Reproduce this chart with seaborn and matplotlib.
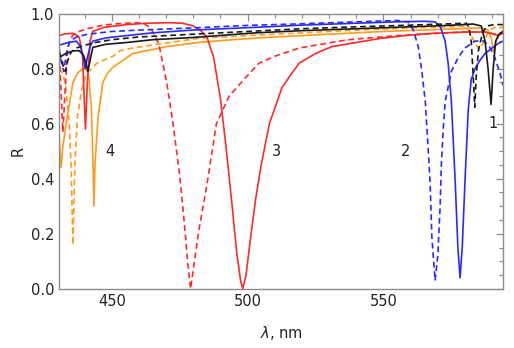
import numpy as np
import pandas as pd
import matplotlib
matplotlib.use("Agg")
import matplotlib.pyplot as plt
import seaborn as sns

# reflectance spectra (wavelength in nm, R)
red_solid_x = [430.6, 433, 436, 438, 439.2, 439.8, 440.3, 441, 442, 443, 447, 455.5, 463, 471, 476, 480, 482.5,
               485, 487.5, 490, 492, 494, 496, 497.4, 498.2, 499.4, 501, 503, 505, 508, 512.6, 516, 519, 525,
               531, 540, 549, 558, 567.6, 580, 587, 590, 592, 594]
red_solid_y = [0.92, 0.927, 0.928, 0.915, 0.85, 0.7, 0.58, 0.75, 0.9, 0.935, 0.95, 0.96, 0.965, 0.967, 0.965,
               0.955, 0.94, 0.915, 0.84, 0.69, 0.52, 0.33, 0.13, 0.03, 0.0, 0.05, 0.18, 0.33, 0.45, 0.6, 0.73,
               0.78, 0.82, 0.855, 0.88, 0.895, 0.91, 0.92, 0.928, 0.933, 0.933, 0.927, 0.92, 0.928]

red_dash_x = [430.6, 431.3, 432, 432.8, 433.8, 435.5, 438, 440.9, 446.7, 452, 459, 462, 464.5, 467.3, 470.2,
              472.4, 474.9, 476.5, 478, 479, 480, 482, 485.2, 488.5, 493.2, 499.5, 504.2, 510, 519, 537, 555,
              570, 580, 588, 591, 594]
red_dash_y = [0.88, 0.72, 0.57, 0.72, 0.88, 0.92, 0.935, 0.945, 0.958, 0.963, 0.967, 0.963, 0.945, 0.89, 0.75,
              0.61, 0.42, 0.26, 0.09, 0.0, 0.07, 0.21, 0.39, 0.6, 0.7, 0.77, 0.82, 0.845, 0.875, 0.905, 0.92,
              0.928, 0.933, 0.933, 0.925, 0.928]

blue_solid_x = [430.6, 434, 437, 438.5, 439.5, 440.2, 441, 442, 443, 448, 455.5, 465, 479.7, 503, 520, 540,
                555, 565, 569, 571, 572.7, 573.8, 575, 576.4, 577.4, 578.2, 579, 580, 581.2, 582.3, 583.7,
                585.5, 587.4, 590, 592, 594]
blue_solid_y = [0.885, 0.895, 0.9, 0.88, 0.84, 0.8, 0.84, 0.88, 0.9, 0.912, 0.92, 0.93, 0.94, 0.95, 0.958,
                0.965, 0.97, 0.972, 0.97, 0.95, 0.9, 0.82, 0.68, 0.39, 0.15, 0.04, 0.15, 0.39, 0.65, 0.76, 0.8,
                0.83, 0.855, 0.875, 0.89, 0.9]

blue_dash_x = [430.6, 431.5, 432.3, 433.2, 434.5, 437, 441, 450, 460, 480, 500, 520, 540, 555, 559, 561,
               562.8, 564, 565.4, 566.5, 567.2, 567.8, 569, 570, 570.9, 571.3, 572, 572.7, 575, 577.5, 580,
               583.7, 587, 589, 591, 593, 594]
blue_dash_y = [0.87, 0.82, 0.79, 0.85, 0.9, 0.915, 0.925, 0.935, 0.94, 0.948, 0.957, 0.963, 0.97, 0.975, 0.97,
               0.94, 0.88, 0.8, 0.68, 0.5, 0.38, 0.19, 0.03, 0.12, 0.31, 0.45, 0.58, 0.68, 0.79, 0.84, 0.875,
               0.9, 0.9, 0.88, 0.84, 0.78, 0.74]

black_solid_x = [430.6, 433, 436, 438, 439.5, 440.5, 441.2, 442, 443, 447.5, 455.5, 465, 479.7, 503, 520, 540,
                 560, 573.8, 583, 586, 587.4, 588.5, 589.6, 590.4, 591.3, 592.5, 594]
black_solid_y = [0.84, 0.855, 0.865, 0.865, 0.85, 0.82, 0.79, 0.83, 0.877, 0.888, 0.895, 0.905, 0.913, 0.93,
                 0.938, 0.945, 0.952, 0.957, 0.962, 0.955, 0.9, 0.8, 0.67, 0.8, 0.9, 0.925, 0.935]

black_dash_x = [430.6, 431.5, 432.3, 433, 433.8, 435, 437, 440, 444, 450, 460, 480, 500, 520, 540, 560, 575,
                580.5, 581.5, 582.3, 583, 583.6, 584.2, 585, 586.5, 588, 591, 594]
black_dash_y = [0.86, 0.84, 0.8, 0.79, 0.83, 0.86, 0.875, 0.885, 0.895, 0.905, 0.915, 0.925, 0.935, 0.945,
                0.952, 0.958, 0.963, 0.965, 0.95, 0.9, 0.78, 0.66, 0.78, 0.87, 0.93, 0.955, 0.96, 0.96]

orange_solid_x = [430.6, 431.3, 432, 433.5, 435.7, 437.5, 439.4, 440.8, 441.5, 442.5, 443.1, 443.4, 443.8,
                  444.9, 446.7, 448.5, 450.4, 457.7, 470.2, 482, 494.3, 510, 530, 550, 570, 580, 586, 588.5,
                  589.7, 590.5, 591.5, 593, 594]
orange_solid_y = [0.55, 0.44, 0.52, 0.62, 0.75, 0.785, 0.8, 0.795, 0.77, 0.65, 0.45, 0.3, 0.45, 0.62, 0.75,
                  0.785, 0.805, 0.855, 0.88, 0.895, 0.905, 0.915, 0.925, 0.935, 0.942, 0.946, 0.948, 0.94,
                  0.91, 0.86, 0.9, 0.93, 0.935]

orange_dash_x = [430.6, 432, 433, 434.3, 435, 435.7, 436.4, 437.3, 438.8, 440.5, 444.5, 450.4, 453, 457.7,
                 467.6, 482, 500, 520, 540, 560, 575, 580, 582, 583.7, 585.5, 587, 589, 591, 594]
orange_dash_y = [0.8, 0.78, 0.74, 0.6, 0.45, 0.16, 0.45, 0.62, 0.72, 0.78, 0.82, 0.845, 0.865, 0.875, 0.89,
                 0.91, 0.92, 0.93, 0.94, 0.948, 0.952, 0.955, 0.93, 0.89, 0.87, 0.9, 0.94, 0.95, 0.95]

# curve number labels: text, wavelength, R
label_text = ["4", "3", "2", "1"]
label_x = [449.3, 510.8, 558.0, 590.3]
label_y = [0.50, 0.50, 0.50, 0.60]

curves = [
    ("orange_dash", orange_dash_x, orange_dash_y, "#ff9a1a", True),
    ("orange_solid", orange_solid_x, orange_solid_y, "#ff9a1a", False),
    ("red_dash", red_dash_x, red_dash_y, "#ff2a2a", True),
    ("red_solid", red_solid_x, red_solid_y, "#ff2a2a", False),
    ("blue_dash", blue_dash_x, blue_dash_y, "#2a2aff", True),
    ("blue_solid", blue_solid_x, blue_solid_y, "#2a2aff", False),
    ("black_dash", black_dash_x, black_dash_y, "#1a1a1a", True),
    ("black_solid", black_solid_x, black_solid_y, "#1a1a1a", False),
]

sns.set_style("white")
plt.rcParams['font.family'] = ['DejaVu Sans']

fig = plt.figure(figsize=(5.14, 3.48), dpi=100)
ax = fig.add_axes([0.115, 0.17, 0.8636, 0.791])

for name, xs, ys, color, dashed in curves:
    df = pd.DataFrame({"nm": xs, "R": ys})
    sns.lineplot(data=df, x="nm", y="R", ax=ax, color=color, lw=1.2,
                 estimator=None, sort=False)
    if dashed:
        ax.lines[-1].set_dashes((3.5, 2.2))

for t, x, y in zip(label_text, label_x, label_y):
    ax.text(x, y, t, fontsize=10.5, color="#222222", ha="center", va="center")

ax.set_xlim(430.6, 594)
ax.set_ylim(0, 1.0)
ax.set_xticks([450, 500, 550])
ax.set_xticks(np.arange(440, 594, 10), minor=True)
ax.set_yticks([0.0, 0.2, 0.4, 0.6, 0.8, 1.0])
ax.set_yticks(np.arange(0, 1.001, 0.05), minor=True)
ax.set_yticklabels(["0.0", "0.2", "0.4", "0.6", "0.8", "1.0"])

for sp in ax.spines.values():
    sp.set_color("#8c8c8c")
    sp.set_linewidth(1.0)
ax.tick_params(which="both", direction="in", top=True, right=True, colors="#8c8c8c",
               labelcolor="#222222", labelsize=10.5)
ax.tick_params(which="major", length=5, width=0.9)
ax.tick_params(which="minor", length=3, width=0.8)

ax.set_xlabel(r"$\lambda$, nm", fontsize=10.5, color="#222222", labelpad=11)
ax.set_ylabel("R", fontsize=10.5, color="#222222", labelpad=4)

fig.savefig("out.png", dpi=100)
